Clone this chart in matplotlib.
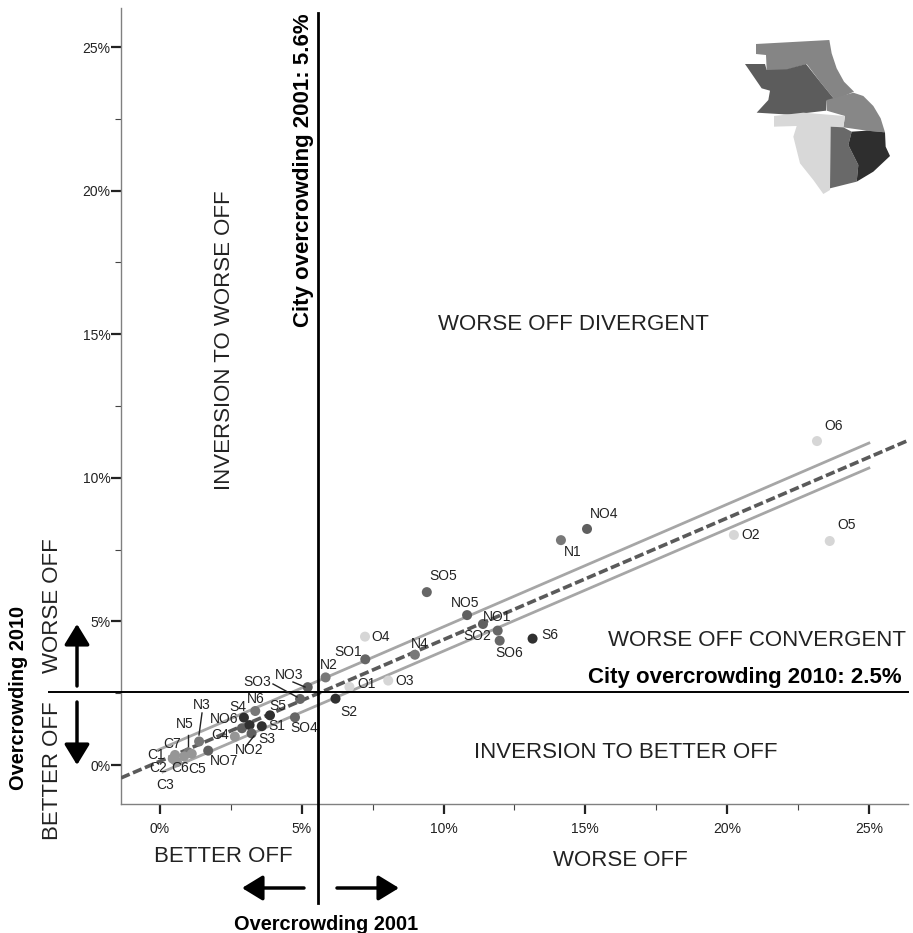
import matplotlib
matplotlib.use('Agg')
import matplotlib.pyplot as plt
from matplotlib.patches import Polygon

plt.rcParams['font.family'] = ['Liberation Sans', 'DejaVu Sans']

W, H = 913, 933

# zone values
names = ['O6', 'NO4', 'N1', 'O2', 'O5', 'SO5', 'NO5', 'NO1', 'SO2', 'SO6', 'S6', 'N4', 'O4',
         'SO1', 'N2', 'O3', 'O1', 'S2', 'NO3', 'SO3', 'SO4', 'S5', 'N6', 'S4', 'NO6', 'S3',
         'S1', 'NO2', 'C4', 'N3', 'NO7', 'N5', 'C5', 'C7', 'C6', 'C1', 'C2', 'C3']
over_2001 = [23.17, 15.06, 14.14, 20.24, 23.62, 9.41, 10.83, 11.39, 11.91, 11.98, 13.14, 8.99, 7.23,
             7.24, 5.84, 8.05, 6.68, 6.19, 5.21, 4.94, 4.76, 3.88, 3.36, 2.96, 2.89, 3.16,
             3.59, 3.23, 2.64, 1.38, 1.70, 1.00, 1.12, 0.53, 0.85, 0.53, 0.45, 0.60]
over_2010 = [11.28, 8.22, 7.83, 8.01, 7.80, 6.02, 5.22, 4.91, 4.68, 4.33, 4.40, 3.84, 4.47,
             3.68, 3.05, 2.94, 2.72, 2.31, 2.71, 2.30, 1.66, 1.73, 1.88, 1.65, 1.28, 1.39,
             1.35, 1.10, 0.99, 0.82, 0.50, 0.44, 0.39, 0.35, 0.30, 0.17, 0.22, 0.10]

city_2001 = 5.57
city_2010 = 2.54

fit_x = [-1.375, 26.38]
fit_y = [-0.45, 11.3]
upper_x = [-0.07, 25]
upper_y = [0.52, 11.21]
lower_x = [0.1, 25]
lower_y = [-0.24, 10.34]

major_ticks = [0, 5, 10, 15, 20, 25]
minor_ticks = [2.5, 7.5, 12.5, 17.5, 22.5]

# label offset from its point, in pixels (right, down)
label_offsets = {
    'O6': (17, -15), 'NO4': (17, -15), 'N1': (12, 12), 'O2': (17, 0), 'O5': (17, -16),
    'SO5': (16, -16), 'NO5': (-2, -12), 'NO1': (14, -7), 'SO2': (-20, 5), 'SO6': (10, 12),
    'S6': (17, -4), 'N4': (5, -11), 'O4': (16, 0), 'SO1': (-17, -7), 'N2': (3, -12),
    'O3': (16, 0), 'O1': (17, -3), 'S2': (13, 13), 'NO3': (-19, -12), 'SO3': (-43, -17),
    'SO4': (9, 11), 'S5': (8, -9), 'N6': (0, -12), 'S4': (-6, -11), 'NO6': (-18, -9),
    'S3': (17, 14), 'S1': (15, 0), 'NO2': (-2, 17), 'C4': (-15, -2), 'N3': (3, -36),
    'NO7': (16, 10), 'N5': (-4, -28), 'C5': (5, 15), 'C7': (-3, -11), 'C6': (-4, 12),
    'C1': (-19, -5), 'C2': (-15, 9), 'C3': (-12, 23),
}

zone_greys = {'NO': '#5f5f5f', 'N': '#787878', 'SO': '#666666', 'S': '#303030', 'O': '#d6d6d6', 'C': '#969696'}

# leader lines as (x0, y0, x1, y1) in figure pixels
leaders = [(293, 682, 305, 687), (273, 684, 297, 697), (202, 713, 199, 735),
           (188, 735, 188, 746), (254, 736, 246, 746)]

# inset map outlines, in pixels of the inset box
map_north = [(108, 72), (328, 60), (335, 100), (350, 145), (372, 185), (402, 215), (345, 240), (300, 185),
             (260, 132), (200, 150), (140, 150), (138, 105), (108, 102)]
map_west = [(75, 132), (135, 132), (140, 150), (200, 148), (258, 132), (300, 185), (345, 240),
            (320, 242), (318, 272), (250, 280), (225, 285), (110, 278), (145, 240), (150, 212), (125, 205)]
map_east = [(320, 240), (400, 218), (430, 228), (460, 258), (482, 295), (495, 337), (440, 332), (370, 322),
            (375, 288), (320, 272)]
map_south = [(162, 288), (250, 278), (375, 288), (370, 322), (332, 320), (330, 510), (310, 522),
             (280, 480), (240, 430), (220, 350), (230, 318), (162, 320)]
map_southmid = [(332, 320), (370, 322), (395, 335), (385, 375), (415, 435), (410, 485), (330, 505)]
map_southeast = [(395, 335), (440, 332), (495, 337), (497, 380), (510, 408), (460, 455), (410, 485),
                 (415, 435), (385, 375)]
map_shapes = [(map_north, '#858585'), (map_west, '#5c5c5c'), (map_east, '#878787'),
              (map_south, '#d8d8d8'), (map_southmid, '#696969'), (map_southeast, '#2e2e2e')]

fig = plt.figure(figsize=(W / 100, H / 100), dpi=100)
ax = fig.add_axes([121 / W, 1 - 804 / H, (908 - 121) / W, (804 - 8) / H])
ax.set_xlim(-1.375, 26.38)
ax.set_ylim(-1.358, 26.36)

ax.plot(upper_x, upper_y, color='#a6a6a6', lw=2.0, zorder=2)
ax.plot(lower_x, lower_y, color='#a6a6a6', lw=2.0, zorder=2)
ax.plot(fit_x, fit_y, color='#5a5a5a', lw=2.6, ls=(0, (2.6, 1.0)), zorder=3)

colors = [zone_greys[n.rstrip('0123456789')] for n in names]
ax.scatter(over_2001, over_2010, s=52, c=colors, linewidths=0, zorder=4)

for n, xv, yv in zip(names, over_2001, over_2010):
    dx, dy = label_offsets[n]
    ax.annotate(n, (xv, yv), xytext=(dx * 0.72, -dy * 0.72), textcoords='offset points',
                ha='center', va='center', fontsize=10, color='#222222', zorder=5)

ax.plot([city_2001, city_2001], [-4.8, 26.2], color='black', lw=2.0, clip_on=False, zorder=6)
ax.plot([-3.91, 26.38], [city_2010, city_2010], color='black', lw=1.4, clip_on=False, zorder=6)

for side in ['top', 'right']:
    ax.spines[side].set_visible(False)
for side in ['left', 'bottom']:
    ax.spines[side].set_color('#808080')
    ax.spines[side].set_linewidth(1.0)

ax.set_xticks(major_ticks)
ax.set_yticks(major_ticks)
ax.set_xticklabels([f'{t}%' for t in major_ticks])
ax.set_yticklabels([f'{t}%' for t in major_ticks])
ax.set_xticks(minor_ticks, minor=True)
ax.set_yticks(minor_ticks, minor=True)
ax.tick_params(axis='both', which='major', length=7, width=1.6, color='#222222',
               labelsize=10, labelcolor='#222222')
ax.tick_params(axis='x', which='major', pad=6)
ax.tick_params(axis='y', which='major', pad=0.5)
ax.tick_params(axis='both', which='minor', length=4, width=0.8, color='#444444')

# overlay in figure pixels for the annotations around the plot
over = fig.add_axes([0, 0, 1, 1], facecolor='none')
over.set_xlim(0, W)
over.set_ylim(H, 0)
over.axis('off')

for x0, y0, x1, y1 in leaders:
    over.plot([x0, x1], [y0, y1], color='#222222', lw=1)

big = dict(fontsize=16, color='#222222', ha='center', va='center')
bold = dict(fontsize=14.4, color='black', ha='center', va='center', fontweight='bold')
title = dict(fontsize=16, color='black', ha='center', va='center', fontweight='bold')
over.text(224, 340, 'INVERSION TO WORSE OFF', rotation=90, **big)
over.text(573, 324, 'WORSE OFF DIVERGENT', **big)
over.text(757, 640, 'WORSE OFF CONVERGENT', **big)
over.text(626, 753, 'INVERSION TO BETTER OFF', **big)
over.text(620, 861, 'WORSE OFF', **big)
over.text(223, 856, 'BETTER OFF', **big)
over.text(53, 606, 'WORSE OFF', rotation=90, **big)
over.text(53, 771, 'BETTER OFF', rotation=90, **big)
over.text(19, 698, 'Overcrowding 2010', rotation=90, **bold)
over.text(326, 925, 'Overcrowding 2001', **bold)
over.text(304, 170, 'City overcrowding 2001: 5.6%', rotation=90, **title)
over.text(745, 678, 'City overcrowding 2010: 2.5%', **title)

arrow = dict(arrowstyle='-|>,head_width=0.55,head_length=0.9', color='black', lw=2.5,
             shrinkA=0, shrinkB=0, mutation_scale=14)
over.annotate('', xy=(77, 624), xytext=(77, 686), arrowprops=arrow)
over.annotate('', xy=(77, 765), xytext=(77, 702), arrowprops=arrow)
over.annotate('', xy=(242, 888), xytext=(304, 888), arrowprops=arrow)
over.annotate('', xy=(399, 888), xytext=(337, 888), arrowprops=arrow)

# inset map
inset = fig.add_axes([720 / W, 1 - 210 / H, 190 / W, 190 / H], facecolor='none')
inset.set_xlim(0, 570)
inset.set_ylim(570, 0)
inset.axis('off')
for pts, shade in map_shapes:
    inset.add_patch(Polygon(pts, closed=True, facecolor=shade, edgecolor='none'))

fig.savefig('out.png', dpi=100)
